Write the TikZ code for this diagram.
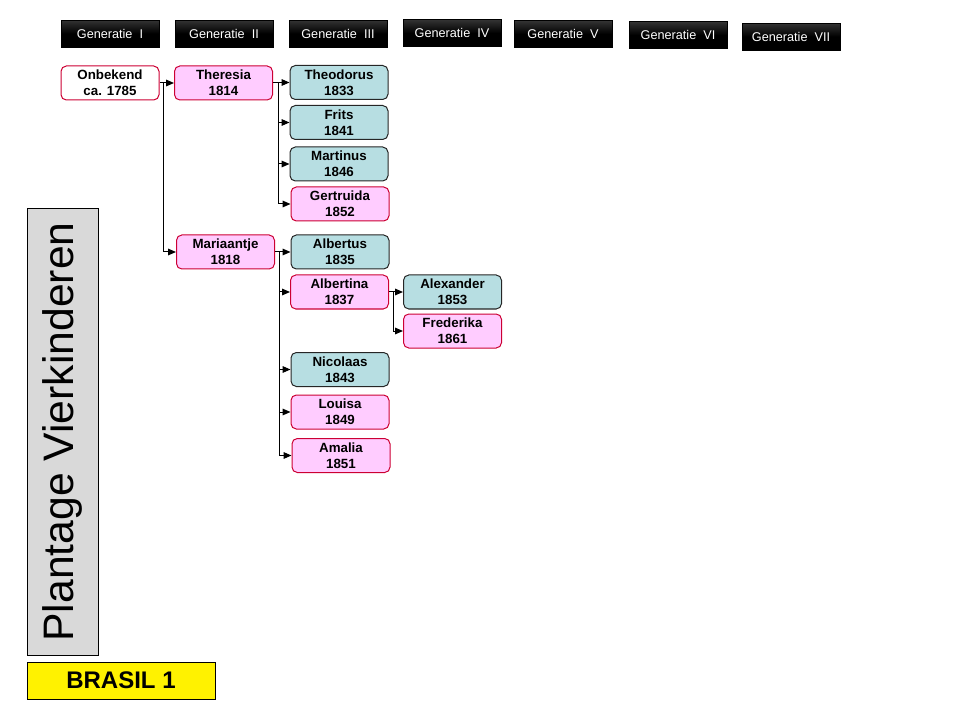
\documentclass[tikz,border=0pt]{standalone}
\usepackage{fontspec}
\setmainfont{Liberation Sans}
\usepackage{graphicx}
\usetikzlibrary{calc}
\usetikzlibrary{arrows.meta}

\definecolor{roze}{HTML}{FFCCFF}
\definecolor{rood}{HTML}{CC0033}
\definecolor{blauw}{HTML}{B7DEE2}
\definecolor{grijs}{HTML}{D9D9D9}

\begin{document}
\begin{tikzpicture}[x=0.75pt,y=-0.75pt,
        gen/.style={rectangle,inner sep=0pt,top color=black!80,bottom color=black,middle color=black,draw=black,minimum width=73.5pt,minimum height=20pt,text=white,font=\fontsize{9.5}{11}\selectfont},
        onb/.style={draw=rood,rectangle,rounded corners=4pt,inner sep=0pt,fill=white,line width=0.75pt,minimum width=73.5pt,minimum height=25.5pt,align=center,font=\fontsize{10}{12}\selectfont\bfseries},
        vrouw/.style={onb,fill=roze},
        man/.style={onb,draw=black!85,fill=blauw},
        pijl/.style={line width=0.75pt,-{Triangle[length=6pt,width=5pt]}},
        lijn/.style={line width=0.75pt}
      ]
      \useasboundingbox (0,0) rectangle (960,720);
      % generaties
      \node[gen] (g1) at (110,33.5) {Generatie\ \ I};
      \node[gen] (g2) at (224,33.5) {Generatie\ \ II};
      \node[gen] (g3) at (338,33.5) {Generatie\ \ III};
      \node[gen] (g4) at (452,33) {Generatie\ \ IV};
      \node[gen] (g5) at (563,34) {Generatie\ \ V};
      \node[gen] (g6) at (678,35) {Generatie\ \ VI};
      \node[gen] (g7) at (791,36.5) {Generatie\ \ VII};
      % personen
      \node[onb] (onbekend) at (110,83) {Onbekend\\ca. 1785};
      \node[vrouw] (theresia) at (223.5,83) {Theresia\\1814};
      \node[vrouw] (mariaantje) at (225.5,252) {Mariaantje\\1818};
      \node[man] (theodorus) at (339,82.5) {Theodorus\\1833};
      \node[man] (frits) at (339,122.5) {Frits\\1841};
      \node[man] (martinus) at (339,164) {Martinus\\1846};
      \node[vrouw] (gertruida) at (340,204) {Gertruida\\1852};
      \node[man] (albertus) at (340,252) {Albertus\\1835};
      \node[vrouw] (albertina) at (339.5,292) {Albertina\\1837};
      \node[man] (nicolaas) at (340,369.5) {Nicolaas\\1843};
      \node[vrouw] (louisa) at (340,412) {Louisa\\1849};
      \node[vrouw] (amalia) at (341,455.5) {Amalia\\1851};
      \node[man] (alexander) at (452.5,292) {Alexander\\1853};
      \node[vrouw] (frederika) at (452.5,331) {Frederika\\1861};
      % verbindingen
      \coordinate (k1) at ($(onbekend.east)+(4,0)$);
      \draw[lijn] (onbekend.east) -- (k1);
      \draw[pijl] (k1) |- (theresia.west);
      \draw[pijl] (k1) |- (mariaantje.west);
      \coordinate (k2) at ($(theresia.east)+(5,0)$);
      \draw[lijn] (theresia.east) -- (k2);
      \draw[pijl] (k2) |- (theodorus.west);
      \draw[pijl] (k2) |- (frits.west);
      \draw[pijl] (k2) |- (martinus.west);
      \draw[pijl] (k2) |- (gertruida.west);
      \coordinate (k3) at ($(mariaantje.east)+(4,0)$);
      \draw[lijn] (mariaantje.east) -- (k3);
      \draw[pijl] (k3) |- (albertus.west);
      \draw[pijl] (k3) |- (albertina.west);
      \draw[pijl] (k3) |- (nicolaas.west);
      \draw[pijl] (k3) |- (louisa.west);
      \draw[pijl] (k3) |- (amalia.west);
      \coordinate (k4) at ($(albertina.east)+(4,0)$);
      \draw[lijn] (albertina.east) -- (k4);
      \draw[pijl] (k4) |- (alexander.west);
      \draw[pijl] (k4) |- (frederika.west);
      % zijbalk
      \node[draw=black,fill=grijs,line width=0.75pt,inner sep=0pt,minimum width=53.25pt,minimum height=334.5pt] (plantage) at (62.5,432) {\rotatebox{90}{\fontsize{32}{36}\selectfont Plantage Vierkinderen}};
      \node[draw=black,fill=yellow,line width=0.75pt,inner sep=0pt,minimum width=141pt,minimum height=27.75pt,font=\fontsize{18}{20}\selectfont\bfseries] (brasil) at (121,680.5) {BRASIL 1};
    \end{tikzpicture}
\end{document}
